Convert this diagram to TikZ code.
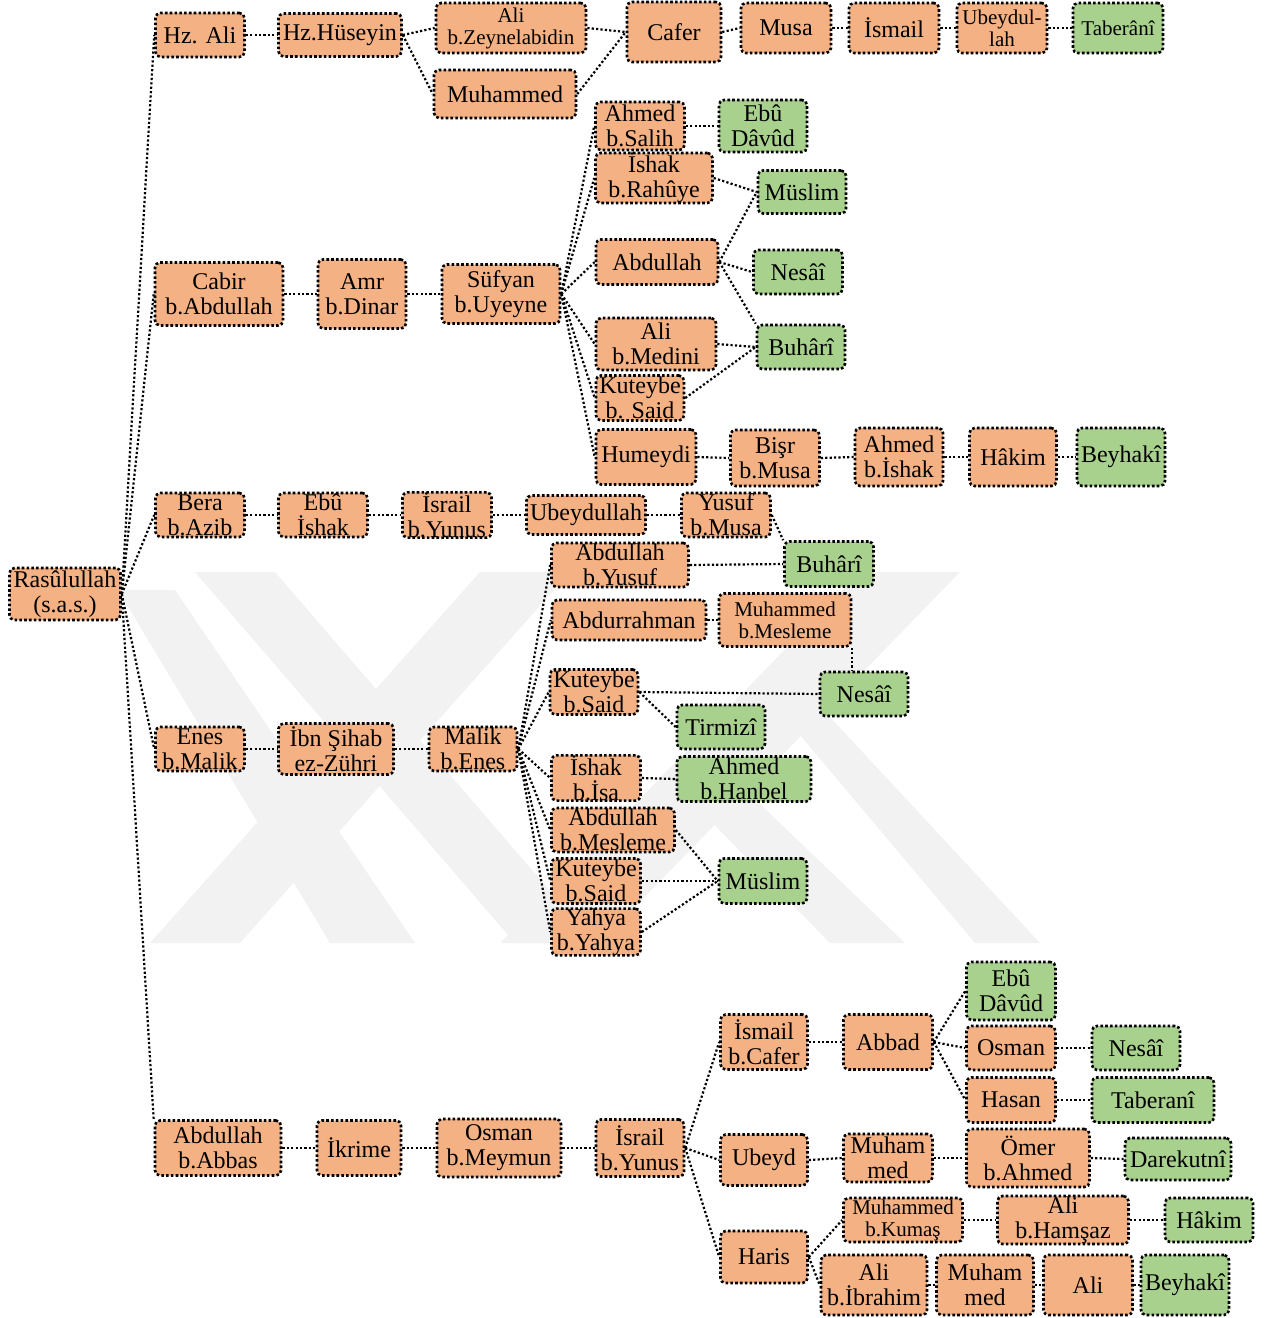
\documentclass[tikz,border=0pt]{standalone}
\usepackage{fontspec}
\setmainfont{Liberation Serif}
\usetikzlibrary{backgrounds}
\definecolor{orng}{HTML}{F4B183}
\definecolor{grn}{HTML}{A9D18E}
\definecolor{wmark}{HTML}{F2F2F2}
\tikzset{
 base/.style={draw=black, line width=1.3pt, dash pattern=on 1.3pt off 1.1pt, rounded corners=2.5pt, inner sep=0pt, align=center, font={\fontsize{12}{12.5}\selectfont}},
 ob/.style 2 args={base, fill=orng, minimum width=#1*0.5pt, minimum height=#2*0.5pt},
 gb/.style 2 args={base, fill=grn, minimum width=#1*0.5pt, minimum height=#2*0.5pt},
 sm/.style={font={\fontsize{10.5}{11}\selectfont}},
 con/.style={draw=black, line width=1.1pt, dash pattern=on 1.1pt off 1.1pt},
}
\begin{document}
\begin{tikzpicture}[x=0.5pt,y=-0.5pt]
\useasboundingbox (0,0) rectangle (1270,1318);
% root
\node[ob={111}{52}] (ras) at (65,594) {Rasûlullah\\(s.a.s.)};
% Hz. Ali branch
\node[ob={89}{44}] (hzali) at (200,35) {Hz. Ali};
\node[ob={123}{43}] (huseyin) at (340,35) {Hz.Hüseyin};
\node[ob={150}{50},sm] (zeyn) at (511,28) {Ali\\b.Zeynelabidin};
\node[ob={142}{48}] (muh1) at (505,94) {Muhammed};
\node[ob={94}{60}] (cafer) at (674,32) {Cafer};
\node[ob={90}{50}] (musa) at (786,28) {Musa};
\node[ob={90}{50}] (ismail) at (894,28) {İsmail};
\node[ob={90}{50},sm] (ubeydul) at (1002,28) {Ubeydul-\\lah};
\node[gb={90}{50},sm] (taberani1) at (1118,28) {Taberânî};
% Cabir branch
\node[ob={128}{63}] (cabir) at (219,294) {Cabir\\b.Abdullah};
\node[ob={88}{69}] (amr) at (362,294) {Amr\\b.Dinar};
\node[ob={118}{59}] (sufyan) at (501,294) {Süfyan\\b.Uyeyne};
\node[ob={89}{48}] (ahmsal) at (640,126) {Ahmed\\b.Salih};
\node[gb={88}{52}] (ebudavud1) at (763,126) {Ebû\\Dâvûd};
\node[ob={117}{44}] (ishrah) at (654,178) {İshak\\b.Rahûye};
\node[gb={88}{43}] (muslim1) at (802,192) {Müslim};
\node[ob={122}{45}] (abdullah1) at (657,262) {Abdullah};
\node[gb={89}{44}] (nesai1) at (798,272) {Nesâî};
\node[ob={120}{52}] (alimed) at (656,344) {Ali\\b.Medini};
\node[gb={88}{44}] (buhari1) at (801,347) {Buhârî};
\node[ob={88}{45}] (kutsaid1) at (640,398) {Kuteybe\\b. Said};
\node[ob={100}{55}] (humeydi) at (646,457) {Humeydi};
\node[ob={89}{56}] (bisr) at (775,458) {Bişr\\b.Musa};
\node[ob={88}{58}] (ahmishak) at (899,457) {Ahmed\\b.İshak};
\node[ob={87}{58}] (hakim1) at (1013,457) {Hâkim};
\node[gb={88}{58}] (beyhaki1) at (1121,457) {Beyhakî};
% Bera branch
\node[ob={89}{44}] (bera) at (200,515) {Bera\\b.Azib};
\node[ob={89}{44}] (ebuishak) at (323,515) {Ebû\\İshak};
\node[ob={89}{44}] (israil1) at (447,515) {İsrail\\b.Yunus};
\node[ob={119}{39}] (ubeydullah) at (586,515) {Ubeydullah};
\node[ob={89}{44}] (yusuf) at (726,515) {Yusuf\\b.Musa};
\node[gb={89}{45}] (buhari2) at (829,564) {Buhârî};
% Enes branch
\node[ob={89}{44}] (enes) at (200,749) {Enes\\b.Malik};
\node[ob={115}{51}] (zuhri) at (336,749) {İbn Şihab\\ez-Zühri};
\node[ob={88}{44}] (malik) at (473,749) {Malik\\b.Enes};
\node[ob={137}{44}] (abdyusuf) at (620,565) {Abdullah\\b.Yusuf};
\node[ob={154}{40}] (abdurrahman) at (629,620) {Abdurrahman};
\node[ob={132}{53},sm] (muhmesleme) at (785,620) {Muhammed\\b.Mesleme};
\node[ob={88}{45}] (kutsaid2) at (594,692) {Kuteybe\\b.Said};
\node[gb={88}{44}] (nesai2) at (864,694) {Nesâî};
\node[gb={88}{44}] (tirmizi) at (721,727) {Tirmizî};
\node[ob={89}{43}] (ishisa) at (596,778) {İshak\\b.İsa};
\node[gb={134}{45}] (ahmhanbel) at (744,779) {Ahmed\\b.Hanbel};
\node[ob={123}{44}] (abdmesleme) at (613,830) {Abdullah\\b.Mesleme};
\node[ob={89}{45}] (kutsaid3) at (596,881) {Kuteybe\\b.Said};
\node[ob={89}{44}] (yahya) at (596,932) {Yahya\\b.Yahya};
\node[gb={88}{45}] (muslim2) at (763,881) {Müslim};
% Abbas branch
\node[ob={126}{55}] (abbas) at (218,1148) {Abdullah\\b.Abbas};
\node[ob={84}{55}] (ikrime) at (359,1148) {İkrime};
\node[ob={124}{58}] (osmanm) at (499,1148) {Osman\\b.Meymun};
\node[ob={88}{57}] (israil2) at (640,1148) {İsrail\\b.Yunus};
\node[ob={87}{55}] (ismcafer) at (764,1042) {İsmail\\b.Cafer};
\node[ob={89}{55}] (abbad) at (888,1042) {Abbad};
\node[gb={89}{58}] (ebudavud2) at (1011,991) {Ebû\\Dâvûd};
\node[ob={89}{44}] (osman) at (1011,1048) {Osman};
\node[gb={88}{44}] (nesai3) at (1136,1048) {Nesâî};
\node[ob={89}{45}] (hasan) at (1011,1100) {Hasan};
\node[gb={122}{45}] (taberani2) at (1153,1100) {Taberanî};
\node[ob={87}{51}] (ubeyd) at (764,1160) {Ubeyd};
\node[ob={89}{48}] (muhammed2) at (888,1158) {Muham\\med};
\node[ob={123}{58}] (omer) at (1028,1158) {Ömer\\b.Ahmed};
\node[gb={106}{42}] (darekutni) at (1178,1159) {Darekutnî};
\node[ob={87}{52}] (haris) at (764,1257) {Haris};
\node[ob={119}{44},sm] (muhkumas) at (903,1220) {Muhammed\\b.Kumaş};
\node[ob={131}{48}] (alihamsaz) at (1063,1220) {Ali\\b.Hamşaz};
\node[gb={88}{44}] (hakim2) at (1209,1220) {Hâkim};
\node[ob={106}{60}] (aliibrahim) at (874,1285) {Ali\\b.İbrahim};
\node[ob={97}{60}] (muhammed3) at (985,1285) {Muham\\med};
\node[ob={89}{60}] (ali3) at (1088,1285) {Ali};
\node[gb={88}{60}] (beyhaki2) at (1185,1285) {Beyhakî};

\begin{pgfonlayer}{background}
% watermark
\begin{scope}
\clip (118,572) rectangle (1110,943);
\fill[wmark] (150,943) -- (240,943) -- (570,572) -- (480,572) -- cycle;
\fill[wmark] (500,943) -- (600,943) -- (960,572) -- (860,572) -- cycle;
\fill[wmark] (195,572) -- (275,572) -- (595,943) -- (515,943) -- cycle;
\fill[wmark] (118,590) -- (175,590) -- (415,943) -- (330,943) -- cycle;
\fill[wmark] (690,800) -- (735,780) -- (905,943) -- (830,943) -- cycle;
\fill[wmark] (773,703) -- (817,703) -- (1040,943) -- (975,943) -- cycle;
\end{scope}
% connectors
\foreach \t in {hzali,cabir,bera,enes} \draw[con] (ras.east) -- (\t.west);
\draw[con] (ras.east) -- (abbas.north west);
\foreach \a/\b in {hzali/huseyin, huseyin/zeyn, huseyin/muh1, zeyn/cafer, muh1/cafer, cafer/musa, musa/ismail, ismail/ubeydul, ubeydul/taberani1,
  cabir/amr, amr/sufyan, sufyan/ahmsal, sufyan/ishrah, sufyan/abdullah1, sufyan/alimed, sufyan/kutsaid1, sufyan/humeydi,
  ahmsal/ebudavud1, ishrah/muslim1, abdullah1/muslim1, abdullah1/nesai1, alimed/buhari1, kutsaid1/buhari1,
  humeydi/bisr, bisr/ahmishak, ahmishak/hakim1, hakim1/beyhaki1,
  bera/ebuishak, ebuishak/israil1, israil1/ubeydullah, ubeydullah/yusuf,
  enes/zuhri, zuhri/malik, malik/abdyusuf, malik/abdurrahman, malik/kutsaid2, malik/ishisa, malik/abdmesleme, malik/kutsaid3, malik/yahya,
  abdyusuf/buhari2, abdurrahman/muhmesleme, kutsaid2/nesai2, kutsaid2/tirmizi, ishisa/ahmhanbel, abdmesleme/muslim2, kutsaid3/muslim2, yahya/muslim2,
  abbas/ikrime, ikrime/osmanm, osmanm/israil2, israil2/ismcafer, israil2/ubeyd, israil2/haris,
  ismcafer/abbad, abbad/ebudavud2, abbad/osman, abbad/hasan, osman/nesai3, hasan/taberani2,
  ubeyd/muhammed2, muhammed2/omer, omer/darekutni,
  haris/muhkumas, muhkumas/alihamsaz, alihamsaz/hakim2,
  haris/aliibrahim, aliibrahim/muhammed3, muhammed3/ali3, ali3/beyhaki2}
  \draw[con] (\a.east) -- (\b.west);
\draw[con] (abdullah1.east) -- (buhari1.north west);
\draw[con] (yusuf.east) -- (buhari2.north west);
\draw[con] (muhmesleme.south east) -- (muhmesleme.south east |- nesai2.north);
\end{pgfonlayer}
\end{tikzpicture}
\end{document}
